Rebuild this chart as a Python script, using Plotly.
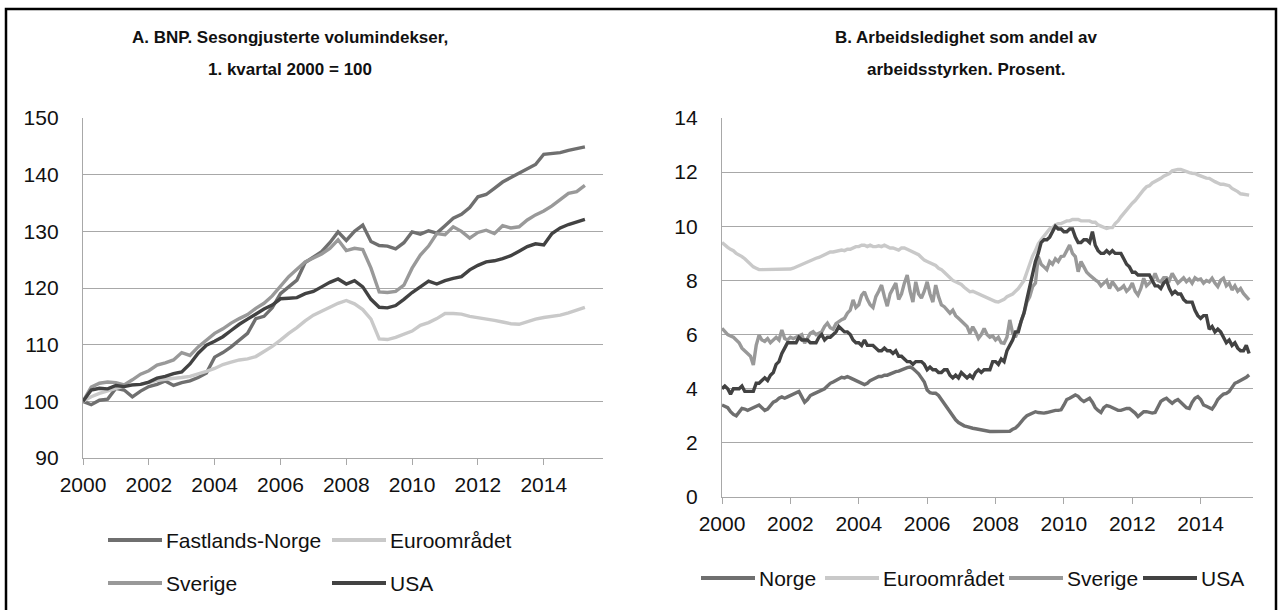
import plotly.graph_objects as go

# ---------------- Panel A data (quarterly, 2000Q1 - 2015Q2) ----------------
gdp_fastlands_norge = [
    100.0, 99.4, 100.2, 100.4,
    102.3, 102.0, 100.8, 101.8,
    102.6, 103.0, 103.6, 102.8,
    103.3, 103.6, 104.2, 105.0,
    107.8, 108.6, 109.6, 110.8,
    112.0, 114.6, 115.0, 116.5,
    119.0, 120.2, 121.4, 124.5,
    125.5, 126.4, 128.0, 129.9,
    128.4, 130.0, 131.1, 128.2,
    127.5, 127.4, 126.9, 128.0,
    129.9, 129.5, 130.1, 129.7,
    131.0, 132.3, 133.0, 134.2,
    136.1, 136.5, 137.6, 138.7,
    139.5, 140.3, 141.0, 141.8,
    143.6, 143.8, 143.9, 144.3,
    144.6, 144.9,
]
gdp_euroomradet = [
    100.0, 100.8, 101.4, 101.9,
    102.3, 102.7, 102.8, 103.0,
    103.3, 103.7, 103.9, 104.0,
    104.2, 104.4, 104.8, 105.3,
    105.8, 106.5, 106.9, 107.3,
    107.5, 107.9, 108.8, 109.7,
    110.8, 112.0, 113.0, 114.2,
    115.2, 115.9, 116.7, 117.3,
    117.8, 117.2, 116.2, 114.5,
    111.0, 110.9, 111.3, 111.8,
    112.4, 113.4, 113.9, 114.6,
    115.5, 115.5, 115.4, 115.0,
    114.8, 114.5, 114.3, 114.0,
    113.7, 113.6, 114.1, 114.5,
    114.8, 115.0, 115.2, 115.6,
    116.1, 116.6,
]
gdp_sverige = [
    100.0, 102.5, 103.2, 103.4,
    103.3, 102.9, 103.8, 104.8,
    105.4, 106.4, 106.8, 107.3,
    108.6, 108.1, 109.6, 110.8,
    112.0, 112.8, 113.8, 114.6,
    115.3, 116.4, 117.3, 118.6,
    120.3, 122.0, 123.3, 124.6,
    125.3, 126.0, 127.0, 128.5,
    126.6, 127.0, 126.8, 123.5,
    119.3, 119.2, 119.4, 120.5,
    123.5, 125.8, 127.4, 129.6,
    129.4, 130.8, 130.0, 128.8,
    129.8, 130.2, 129.6, 131.0,
    130.6, 130.8, 132.0, 132.9,
    133.6, 134.5, 135.6, 136.7,
    137.0, 138.1,
]
gdp_usa = [
    100.0, 102.0, 102.3, 102.2,
    102.8, 102.6, 102.9, 103.0,
    103.4, 104.1, 104.4, 104.9,
    105.2, 106.6, 108.5, 109.9,
    110.6, 111.4, 112.5, 113.6,
    114.5, 115.4, 116.3, 117.0,
    118.1, 118.2, 118.3, 119.0,
    119.4, 120.2, 121.0, 121.6,
    120.7, 121.3, 120.2, 118.0,
    116.6, 116.5, 116.9, 118.0,
    119.2, 120.2, 121.2, 120.7,
    121.3, 121.7, 122.0, 123.2,
    124.0, 124.6, 124.8, 125.2,
    125.7, 126.5, 127.3, 127.8,
    127.6, 129.6, 130.6, 131.2,
    131.6, 132.1,
]

# ---------------- Panel B data (monthly, 2000M01 - 2015M06) ----------------
ue_norge = [
    3.4, 3.35, 3.3, 3.15, 3.05, 3.0, 3.15, 3.27, 3.25, 3.2, 3.25, 3.3,
    3.35, 3.4, 3.3, 3.2, 3.25, 3.4, 3.5, 3.55, 3.65, 3.7, 3.65, 3.7,
    3.75, 3.8, 3.85, 3.9, 3.7, 3.5, 3.6, 3.75, 3.8, 3.85, 3.9, 3.95,
    4.0, 4.1, 4.2, 4.25, 4.3, 4.35, 4.42, 4.4, 4.45, 4.4, 4.35, 4.3,
    4.25, 4.2, 4.15, 4.2, 4.3, 4.35, 4.4, 4.45, 4.45, 4.5, 4.5, 4.55,
    4.6, 4.63, 4.65, 4.7, 4.75, 4.78, 4.8, 4.75, 4.65, 4.55, 4.4, 4.25,
    3.95, 3.85, 3.83, 3.83, 3.75, 3.6, 3.45, 3.3, 3.1, 2.95, 2.85, 2.75,
    2.68, 2.63, 2.6, 2.56, 2.54, 2.52, 2.5, 2.47, 2.43, 2.42, 2.42, 2.42,
    2.42, 2.42, 2.42, 2.42, 2.42, 2.43, 2.5, 2.55, 2.65, 2.8, 2.9, 3.0,
    3.05, 3.1, 3.15, 3.12, 3.1, 3.1, 3.12, 3.15, 3.15, 3.2, 3.2, 3.22,
    3.4, 3.6, 3.65, 3.7, 3.77, 3.72, 3.6, 3.53, 3.6, 3.65, 3.5, 3.3,
    3.2, 3.12, 3.3, 3.38, 3.35, 3.3, 3.25, 3.2, 3.2, 3.25, 3.27, 3.27,
    3.2, 3.1, 2.97, 3.05, 3.15, 3.15, 3.12, 3.1, 3.12, 3.3, 3.53, 3.6,
    3.65, 3.55, 3.46, 3.55, 3.6, 3.5, 3.4, 3.3, 3.27, 3.5, 3.65, 3.71,
    3.6, 3.4, 3.35, 3.3, 3.25, 3.4, 3.6, 3.71, 3.8, 3.83, 3.9, 4.05,
    4.2, 4.25, 4.3, 4.37, 4.42, 4.51,
]
ue_euroomradet = [
    9.4, 9.3, 9.22, 9.15, 9.1, 9.0, 8.95, 8.88, 8.8, 8.7, 8.6, 8.5,
    8.45, 8.4, 8.4, 8.4, 8.4, 8.4, 8.4, 8.4, 8.4, 8.4, 8.42, 8.4,
    8.42, 8.45, 8.5, 8.55, 8.6, 8.65, 8.7, 8.75, 8.8, 8.82, 8.85, 8.9,
    8.95, 9.0, 9.05, 9.05, 9.08, 9.1, 9.12, 9.1, 9.15, 9.15, 9.2, 9.25,
    9.25, 9.3, 9.3, 9.25, 9.3, 9.25, 9.25, 9.28, 9.25, 9.3, 9.25, 9.2,
    9.2, 9.15, 9.12, 9.2, 9.2, 9.15, 9.1, 9.05, 9.0, 8.95, 8.85, 8.75,
    8.7, 8.65, 8.6, 8.55, 8.45, 8.4, 8.3, 8.2, 8.1, 8.0, 7.95, 7.9,
    7.85, 7.75, 7.65, 7.58, 7.6, 7.55, 7.5, 7.45, 7.4, 7.35, 7.3, 7.25,
    7.22, 7.2, 7.25, 7.3, 7.4, 7.45, 7.5, 7.6, 7.7, 7.85, 8.0, 8.3,
    8.6, 8.9, 9.1, 9.35, 9.5, 9.65, 9.8, 9.9, 9.95, 10.05, 10.1, 10.1,
    10.15, 10.2, 10.2, 10.25, 10.25, 10.25, 10.2, 10.2, 10.2, 10.2, 10.15, 10.15,
    10.05, 10.0, 9.95, 9.92, 9.95, 9.95, 10.1, 10.2, 10.35, 10.48, 10.6, 10.75,
    10.85, 10.95, 11.1, 11.25, 11.35, 11.46, 11.5, 11.6, 11.65, 11.72, 11.77, 11.85,
    11.9, 11.95, 12.05, 12.08, 12.1, 12.1, 12.05, 12.0, 11.98, 11.96, 11.95, 11.9,
    11.85, 11.8, 11.78, 11.77, 11.7, 11.65, 11.6, 11.55, 11.55, 11.53, 11.5, 11.4,
    11.35, 11.28, 11.2, 11.18, 11.15, 11.15,
]
ue_sverige = [
    6.23, 6.1, 6.0, 5.95, 5.9, 5.8, 5.7, 5.5, 5.4, 5.3, 5.2, 4.88,
    5.6, 5.98, 5.8, 5.75, 5.85, 5.7, 5.8, 5.9, 5.8, 6.17, 5.85, 5.8,
    5.9, 5.85, 5.9, 5.95, 6.0, 5.68, 5.9, 6.05, 6.11, 6.0, 6.05, 6.1,
    6.3, 6.42, 6.25, 6.2, 6.4, 6.48, 6.55, 6.6, 6.79, 6.9, 7.28, 7.0,
    7.1, 7.45, 7.58, 7.3, 7.1, 7.0, 7.4, 7.6, 7.83, 7.4, 7.05, 7.5,
    7.7, 7.9, 7.3, 7.5, 7.9, 8.2, 7.6, 7.2, 7.95, 7.5, 7.35, 7.6,
    7.95, 7.5, 7.2, 7.83, 7.4, 7.1, 7.03, 6.9, 6.79, 6.9, 6.7, 6.6,
    6.5, 6.4, 6.3, 6.05, 6.29, 6.1, 5.86, 6.0, 6.23, 6.0, 5.9, 5.95,
    5.8, 5.9, 5.7, 5.68, 5.9, 6.54, 6.05, 5.9, 6.2, 6.5, 6.79, 7.2,
    7.4, 7.77, 7.9, 8.88, 8.6, 8.5, 8.4, 8.7, 8.6, 8.8, 8.7, 8.88,
    8.9, 9.1, 9.31, 9.0, 8.88, 8.32, 8.7, 8.5, 8.3, 8.2, 8.1, 8.02,
    7.95, 7.8, 7.9, 8.0, 7.7, 7.95, 7.8, 7.65, 7.7, 7.8, 7.6, 7.7,
    7.9, 7.6, 7.46, 7.7, 8.08, 7.8, 7.9, 8.0, 8.26, 8.0, 7.95, 8.1,
    8.1, 8.0, 8.26, 8.1, 7.9, 8.0, 8.1, 7.95, 8.05, 7.9, 8.1, 8.02,
    8.05, 7.9, 8.0, 7.95, 8.08, 7.9, 7.77, 8.0, 8.08, 7.8, 7.9, 7.65,
    7.8, 7.6, 7.7, 7.52, 7.4, 7.28,
]
ue_usa = [
    4.0, 4.1, 4.0, 3.8, 4.0, 4.0, 4.0, 4.1, 3.9, 3.9, 3.9, 3.9,
    4.2, 4.2, 4.3, 4.4, 4.3, 4.5, 4.6, 4.9, 5.0, 5.3, 5.5, 5.7,
    5.7, 5.7, 5.7, 5.9, 5.8, 5.8, 5.8, 5.7, 5.7, 5.7, 5.9, 6.0,
    5.8, 5.9, 5.9, 6.0, 6.1, 6.3, 6.2, 6.1, 6.1, 6.0, 5.8, 5.7,
    5.7, 5.6, 5.8, 5.6, 5.6, 5.6, 5.5, 5.4, 5.4, 5.5, 5.4, 5.4,
    5.3, 5.4, 5.2, 5.2, 5.1, 5.0, 5.0, 4.9, 5.0, 5.0, 5.0, 4.9,
    4.7, 4.8, 4.7, 4.7, 4.6, 4.6, 4.7, 4.7, 4.5, 4.4, 4.5, 4.4,
    4.6, 4.5, 4.4, 4.5, 4.4, 4.6, 4.7, 4.6, 4.7, 4.7, 4.7, 5.0,
    5.0, 4.9, 5.1, 5.0, 5.4, 5.6, 5.8, 6.1, 6.1, 6.5, 6.8, 7.3,
    7.8, 8.3, 8.7, 9.0, 9.4, 9.5, 9.5, 9.6, 9.8, 10.0, 9.9, 9.9,
    9.8, 9.8, 9.9, 9.9, 9.6, 9.4, 9.4, 9.5, 9.5, 9.4, 9.8, 9.3,
    9.1, 9.0, 9.0, 9.1, 9.0, 9.1, 9.0, 9.0, 9.0, 8.8, 8.6, 8.5,
    8.3, 8.3, 8.2, 8.2, 8.2, 8.2, 8.2, 8.0, 7.8, 7.8, 7.7, 7.9,
    8.0, 7.7, 7.5, 7.6, 7.5, 7.5, 7.3, 7.2, 7.2, 7.2, 6.9, 6.7,
    6.6, 6.7, 6.7, 6.2, 6.3, 6.1, 6.2, 6.1, 5.9, 5.7, 5.8, 5.6,
    5.7, 5.5, 5.4, 5.4, 5.6, 5.3,
]

year_ticks = [2000, 2002, 2004, 2006, 2008, 2010, 2012, 2014]
year_tick_labels = ["2000", "2002", "2004", "2006", "2008", "2010", "2012", "2014"]
a_y_ticks = [90, 100, 110, 120, 130, 140, 150]
b_y_ticks = [0, 2, 4, 6, 8, 10, 12, 14]

names_a = ["Fastlands-Norge", "Euroområdet", "Sverige", "USA"]
names_b = ["Norge", "Euroområdet", "Sverige", "USA"]
colors = ["#6f6f6f", "#c9c9c9", "#999999", "#424242"]

W, H = 1282, 610
FONT = "Liberation Sans, Arial, sans-serif"
GRID = "#a8a8a8"


def px(x):
    return x / W


def py(y):
    return 1 - y / H


fig = go.Figure()

series_a = [gdp_fastlands_norge, gdp_euroomradet, gdp_sverige, gdp_usa]
series_b = [ue_norge, ue_euroomradet, ue_sverige, ue_usa]

for name, vals, col in zip(names_a, series_a, colors):
    fig.add_trace(go.Scatter(
        x=[2000 + i / 4 for i in range(len(vals))], y=vals, name=name,
        mode="lines", line=dict(color=col, width=3.4), showlegend=False,
        xaxis="x", yaxis="y"))
for name, vals, col in zip(names_b, series_b, colors):
    fig.add_trace(go.Scatter(
        x=[2000 + i / 12 for i in range(len(vals))], y=vals, name=name,
        mode="lines", line=dict(color=col, width=3.4), showlegend=False,
        xaxis="x2", yaxis="y2"))

axis_common = dict(zeroline=False, showline=True, linecolor=GRID,
                   linewidth=1.3, tickfont=dict(family=FONT, size=21, color="#111"))

fig.update_layout(
    width=W, height=H, template="none",
    paper_bgcolor="white", plot_bgcolor="white",
    margin=dict(l=0, r=0, t=0, b=0, autoexpand=False),
    xaxis=dict(domain=[px(83), px(603)], range=[2000, 2015.8], tickvals=year_ticks,
               ticktext=year_tick_labels, ticks="outside", ticklen=6, tickcolor=GRID,
               tickwidth=1.3, anchor="y", showgrid=False, ticklabelstandoff=2,
               **axis_common),
    yaxis=dict(domain=[py(458), py(118)], range=[90, 150], tickvals=a_y_ticks,
               ticks="", showgrid=True, gridcolor=GRID, gridwidth=1.3,
               anchor="x", ticklabelstandoff=19, **axis_common),
    xaxis2=dict(domain=[px(722), px(1253)], range=[2000, 2015.53], tickvals=year_ticks,
                ticktext=year_tick_labels, ticks="outside", ticklen=6, tickcolor=GRID,
                tickwidth=1.3, anchor="y2", showgrid=False, ticklabelstandoff=2,
                **axis_common),
    yaxis2=dict(domain=[py(497), py(118)], range=[0, 14], tickvals=b_y_ticks,
                ticks="", showgrid=True, gridcolor=GRID, gridwidth=1.3,
                anchor="x2", ticklabelstandoff=19, **axis_common),
    showlegend=False,
)

# Titles
titles = [
    ("A. BNP. Sesongjusterte volumindekser,", 290, 37),
    ("1. kvartal 2000 = 100", 290, 69),
    ("B. Arbeidsledighet som andel av", 966, 37),
    ("arbeidsstyrken. Prosent.", 966, 69),
]
for txt, x, y in titles:
    fig.add_annotation(text="<b>" + txt + "</b>", x=px(x), y=py(y), xref="paper",
                       yref="paper", showarrow=False, xanchor="center", yanchor="middle",
                       font=dict(family=FONT, size=17, color="#111"))

# Manual legends (line sample + label)
legend_items = [
    (names_a[0], colors[0], 108, 540),
    (names_a[1], colors[1], 332, 540),
    (names_a[2], colors[2], 108, 583),
    (names_a[3], colors[3], 332, 583),
    (names_b[0], colors[0], 701, 578),
    (names_b[1], colors[1], 825, 578),
    (names_b[2], colors[2], 1009, 578),
    (names_b[3], colors[3], 1143, 578),
]
for name, col, x0, y in legend_items:
    fig.add_shape(type="line", xref="paper", yref="paper", x0=px(x0), x1=px(x0 + 54),
                  y0=py(y), y1=py(y), line=dict(color=col, width=4))
    fig.add_annotation(text=name, x=px(x0 + 56), y=py(y), xref="paper", yref="paper",
                       showarrow=False, xanchor="left", yanchor="middle",
                       font=dict(family=FONT, size=21, color="#111"))

# Outer frame
fig.add_shape(type="rect", xref="paper", yref="paper", x0=px(6), x1=px(1276),
              y0=py(614), y1=py(9), line=dict(color="black", width=2.5))

fig.write_html("out.html", config={"displayModeBar": False},
               post_script="document.body.style.margin='0';document.body.style.overflow='hidden';")
